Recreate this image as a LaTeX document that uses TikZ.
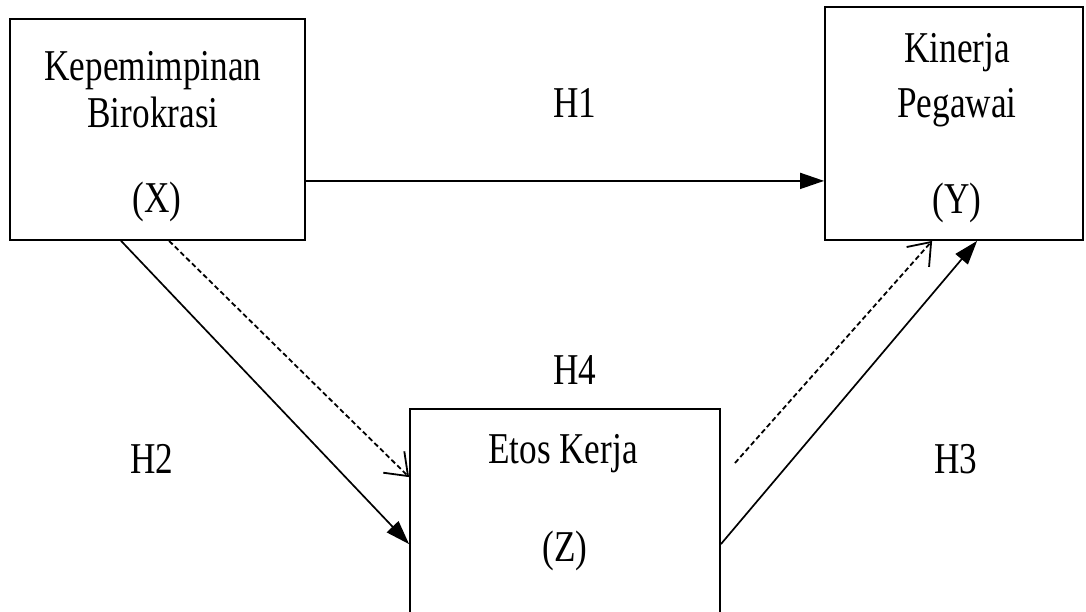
\documentclass[tikz,border=0pt]{standalone}
\usepackage{fontspec}
\setmainfont[FakeStretch=0.8]{Liberation Serif}
\usetikzlibrary{arrows.meta,positioning}

\begin{document}
\begin{tikzpicture}[x=1pt,y=-1pt,
    box/.style={draw, line width=1.8pt, inner sep=0pt},
    txt/.style={anchor=base, inner sep=0pt, font=\fontsize{44}{50}\selectfont},
    path/.style={line width=1.7pt, -{Triangle[length=24pt,width=16pt]}},
    indirect/.style={line width=1.8pt, dash pattern=on 5pt off 3pt,
      -{Straight Barb[length=20pt,width=30pt]}}
  ]
    \clip (0,0) rectangle (1086,611);
    % variables
    \node[box,minimum width=295pt,minimum height=221pt] (X) at (157.5,129.5) {};
    \node[box,minimum width=258pt,minimum height=233pt] (Y) at (954,123.5) {};
    \node[box,minimum width=310pt,minimum height=231pt] (Z) at (565,524.5) {};

    \node[txt] (x1) at (153,80) {Kepemimpinan};
    \node[txt] (x2) at (153,127) {Birokrasi};
    \node[txt] (x3) at (157,212) {(X)};
    \node[txt] (y1) at (957,62) {Kinerja};
    \node[txt] (y2) at (957,117) {Pegawai};
    \node[txt] (y3) at (957,213) {(Y)};
    \node[txt] (z1) at (563,463) {Etos Kerja};
    \node[txt] (z2) at (565,561) {(Z)};

    % hypotheses
    \node[txt] (h1) at (575,117) {H1};
    \node[txt] (h2) at (152,473) {H2};
    \node[txt] (h3) at (956,473) {H3};
    \node[txt] (h4) at (575,384) {H4};

    \coordinate (zy) at (735,463);
    \draw[path] ([yshift=60pt]X.south east) -- ([yshift=60pt]Y.south west);
    \draw[path] ([xshift=112pt]X.south west) -- ([yshift=-136pt]Z.north west);
    \draw[indirect] ([xshift=160pt]X.south west) -- ([yshift=-69pt]Z.north west);
    \draw[path] ([yshift=-136pt]Z.north east) -- ([xshift=153pt]Y.south west);
    \draw[indirect] (zy) -- ([xshift=108pt]Y.south west);
\end{tikzpicture}
\end{document}
